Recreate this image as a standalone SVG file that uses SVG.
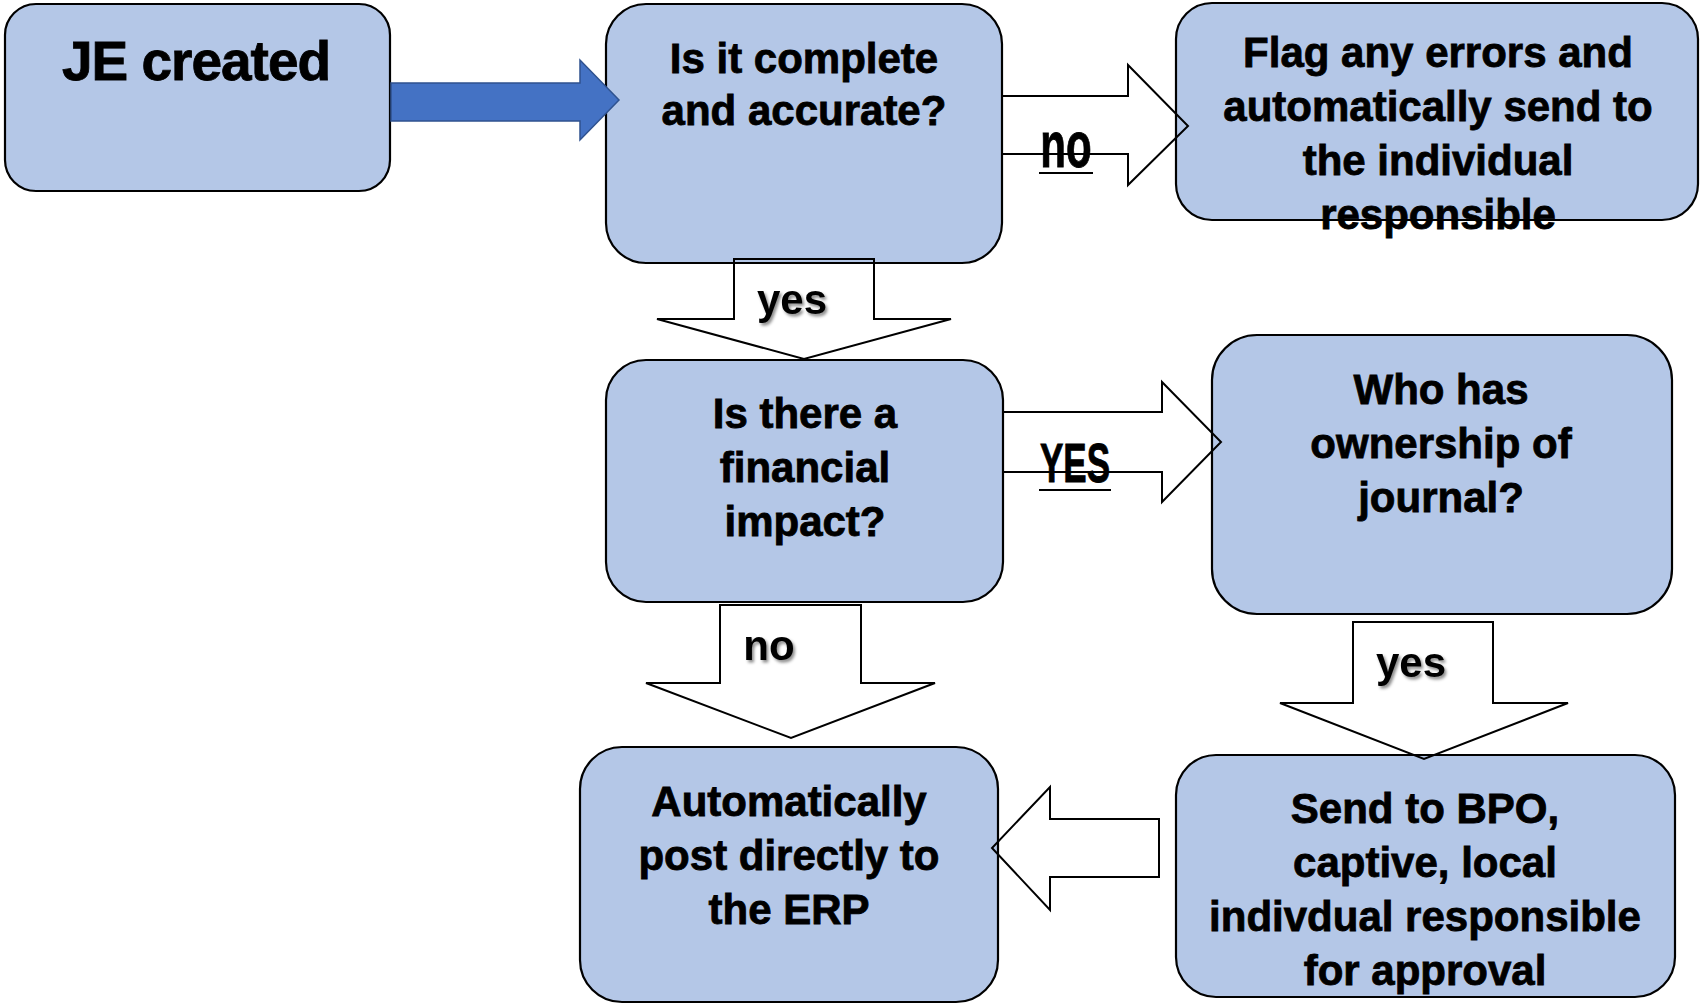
<svg xmlns="http://www.w3.org/2000/svg" width="1700" height="1004" viewBox="0 0 1700 1004">
<style>
.box{fill:#B4C7E7;stroke:#000;stroke-width:2.2}
.t{font-family:"Liberation Sans",Arial,sans-serif;font-weight:bold;font-size:42px;fill:#000;stroke:#000;stroke-width:0.8;text-anchor:middle}
.arr{fill:none;stroke:#000;stroke-width:2;stroke-linejoin:miter}
.lbl{font-family:"Liberation Sans",Arial,sans-serif;font-weight:bold;font-size:42px;fill:#000;text-anchor:middle}
.cond{font-family:"Liberation Sans",Arial,sans-serif;font-weight:bold;fill:#000;stroke:#000;stroke-width:0.6;text-anchor:middle}
.ul{stroke:#000;stroke-width:2}
</style>
<defs>
<filter id="sh" x="-20%" y="-20%" width="150%" height="150%">
<feDropShadow dx="2" dy="2.5" stdDeviation="1.5" flood-color="#000" flood-opacity="0.45"/>
</filter>
</defs>
<rect width="1700" height="1004" fill="#fff"/>
<g id="n1">
<rect class="box" x="5" y="4" width="385" height="187" rx="31"/>
<text class="t" x="196" y="80" style="font-size:55px;letter-spacing:-1px">JE created</text>
</g>
<g id="n2">
<rect class="box" x="606" y="4" width="396" height="259" rx="40"/>
<text class="t" x="804" y="73">Is it complete<tspan x="804" dy="52">and accurate?</tspan></text>
</g>
<g id="n3">
<rect class="box" x="1176" y="3" width="522" height="217" rx="36"/>
<text class="t" x="1438" y="67">Flag any errors and<tspan x="1438" dy="54">automatically send to</tspan><tspan x="1438" dy="54">the individual</tspan><tspan x="1438" dy="54">responsible</tspan></text>
</g>
<g id="n4">
<rect class="box" x="606" y="360" width="397" height="242" rx="40"/>
<text class="t" x="805" y="428">Is there a<tspan x="805" dy="54">financial</tspan><tspan x="805" dy="54">impact?</tspan></text>
</g>
<g id="n5">
<rect class="box" x="1212" y="335" width="460" height="279" rx="45"/>
<text class="t" x="1441" y="404">Who has<tspan x="1441" dy="54">ownership of</tspan><tspan x="1441" dy="54">journal?</tspan></text>
</g>
<g id="n6">
<rect class="box" x="580" y="747" width="418" height="255" rx="42"/>
<text class="t" x="789" y="816">Automatically<tspan x="789" dy="54">post directly to</tspan><tspan x="789" dy="54">the ERP</tspan></text>
</g>
<g id="n7">
<rect class="box" x="1176" y="755" width="499" height="242" rx="40"/>
<text class="t" x="1425" y="823">Send to BPO,<tspan x="1425" dy="54">captive, local</tspan><tspan x="1425" dy="54">indivdual responsible</tspan><tspan x="1425" dy="54">for approval</tspan></text>
</g>
<g id="connectors">
<polygon points="391,83 580,83 580,60 619,100 580,140 580,121 391,121" fill="#4472C4" stroke="#2F528F" stroke-width="1.5"/>
<polygon class="arr" points="1002,96 1128,96 1128,65 1188,126 1128,185 1128,154 1002,154"/>
<polygon class="arr" points="734,259 874,259 874,319 951,319 804,359 657,319 734,319"/>
<polygon class="arr" points="1003,412 1162,412 1162,382 1221,442 1162,502 1162,472 1003,472"/>
<polygon class="arr" points="720,605 861,605 861,683 935,683 791,738 646,683 720,683"/>
<polygon class="arr" points="1353,622 1493,622 1493,703 1568,703 1424,759 1280,703 1353,703"/>
<polygon class="arr" points="1159,819 1050,819 1050,787 992,848 1050,910 1050,877 1159,877"/>
<text class="lbl" x="792" y="314" filter="url(#sh)">yes</text>
<text class="lbl" x="769" y="660" filter="url(#sh)">no</text>
<text class="lbl" x="1411" y="677" filter="url(#sh)">yes</text>
<text class="cond" transform="translate(1066,167) scale(1,1.56)" style="font-size:42px">no</text>
<line class="ul" x1="1039" y1="173" x2="1093" y2="173"/>
<text class="cond" transform="translate(1075,482) scale(1,1.56)" style="font-size:35px">YES</text>
<line class="ul" x1="1039" y1="490" x2="1111" y2="490"/>
</g>
</svg>
